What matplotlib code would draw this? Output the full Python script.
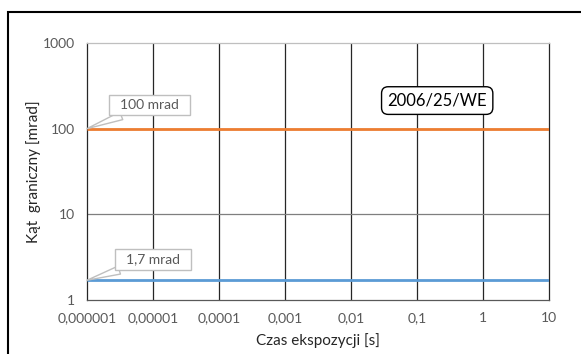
import matplotlib.pyplot as plt
from matplotlib.patches import Rectangle

# Data
X_TICKS = [0.000001, 0.00001, 0.0001, 0.001, 0.01, 0.1, 1, 10]
X_TICK_LABELS = ['0,000001', '0,00001', '0,0001', '0,001', '0,01', '0,1', '1', '10']
Y_TICKS = [1, 10, 100, 1000]
Y_TICK_LABELS = ['1', '10', '100', '1000']
TIME_S = [0.000001, 10]
LIMIT_HIGH = [100, 100]
LIMIT_LOW = [1.7, 1.7]
LABEL_HIGH = '100 mrad'
LABEL_LOW = '1,7 mrad'
NORM_LABEL = '2006/25/WE'

ORANGE = '#ED7D31'
BLUE = '#5B9BD5'
TICK_COLOR = '#595959'

plt.rcParams['font.family'] = ['Lato', 'DejaVu Sans']

fig = plt.figure(figsize=(5.81, 3.54), dpi=100)
fig.patches.append(Rectangle((7.5 / 581, -0.1), 1.2, (354 - 12.5) / 354 + 0.1,
                             transform=fig.transFigure, fill=False, ec='black', lw=1.5))
ax = fig.add_axes([87 / 581, 54 / 354, 462 / 581, 257 / 354])

ax.set_xscale('log')
ax.set_yscale('log')
ax.set_xlim(TIME_S[0], TIME_S[-1])
ax.set_ylim(Y_TICKS[0], Y_TICKS[-1])

# grid
for xv in X_TICKS[1:-1]:
    ax.axvline(xv, color='#262626', lw=0.9, zorder=1)
for yv in Y_TICKS[1:-1]:
    ax.axhline(yv, color='#7F7F7F', lw=0.9, zorder=1)

ax.plot(TIME_S, LIMIT_HIGH, color=ORANGE, lw=2, zorder=3, solid_capstyle='butt')
ax.plot(TIME_S, LIMIT_LOW, color=BLUE, lw=2, zorder=3, solid_capstyle='butt')

ax.spines['top'].set_color('#BFBFBF')
ax.spines['left'].set_color('#262626')
ax.spines['right'].set_color('#262626')
ax.spines['bottom'].set_color('#595959')
for sp in ax.spines.values():
    sp.set_linewidth(0.9)

ax.set_xticks(X_TICKS)
ax.set_xticklabels(X_TICK_LABELS)
ax.set_yticks(Y_TICKS)
ax.set_yticklabels(Y_TICK_LABELS)
ax.minorticks_off()
ax.tick_params(length=0, colors=TICK_COLOR, labelsize=10)
ax.tick_params(axis='x', pad=9)
ax.tick_params(axis='y', pad=9)

ax.set_xlabel('Czas ekspozycji [s]', fontsize=11, color='#262626', labelpad=6)
ax.set_ylabel('Kąt  graniczny [mrad]', fontsize=11, color='#262626', labelpad=1)

callout_box = dict(boxstyle='square,pad=0.3', fc='white', ec='#BFBFBF', lw=1)
callout_arrow = dict(arrowstyle='wedge,tail_width=0.6,shrink_factor=0.5', fc='white',
                     ec='#BFBFBF', lw=1, shrinkA=0, shrinkB=0)
ax.annotate('  ' + LABEL_HIGH + '  ', xy=(TIME_S[0], LIMIT_HIGH[0]), xytext=(45, 17),
            textcoords='offset points', ha='center', va='center', fontsize=10,
            color=TICK_COLOR, bbox=callout_box, arrowprops=callout_arrow, zorder=5)
ax.annotate('  ' + LABEL_LOW + '  ', xy=(TIME_S[0], LIMIT_LOW[0]), xytext=(47.5, 15),
            textcoords='offset points', ha='center', va='center', fontsize=10,
            color=TICK_COLOR, bbox=callout_box, arrowprops=callout_arrow, zorder=5)

ax.text(0.758, 0.776, NORM_LABEL, transform=ax.transAxes, ha='center', va='center',
        fontsize=12, color='black', zorder=6,
        bbox=dict(boxstyle='round,pad=0.35,rounding_size=0.4', fc='white', ec='black', lw=1))

fig.savefig('out.png', dpi=100)
